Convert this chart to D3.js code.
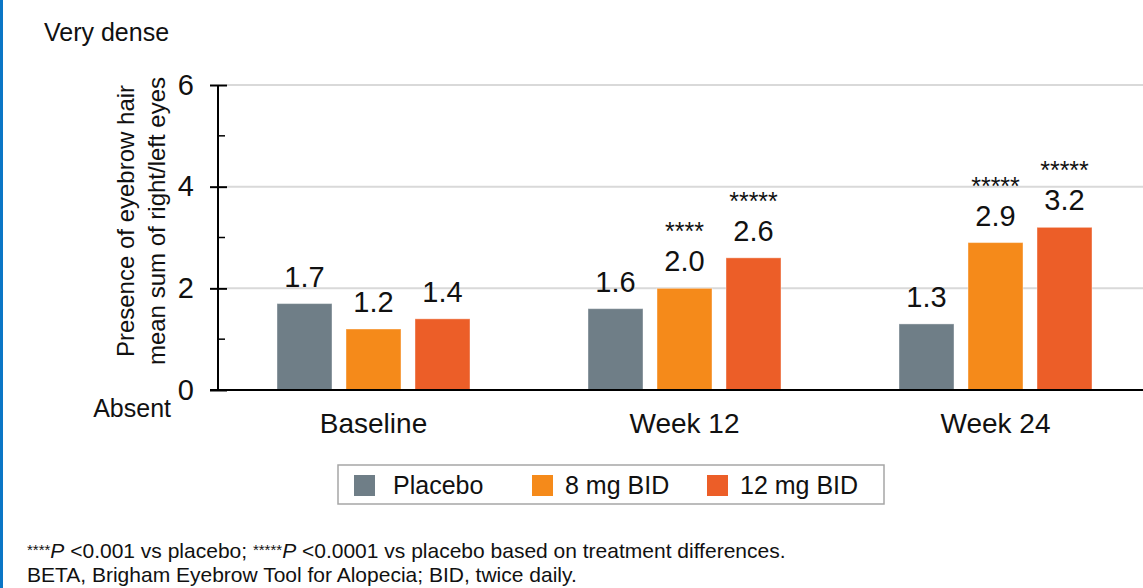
<!DOCTYPE html>
<html>
<head>
<meta charset="utf-8">
<script src="https://cdn.jsdelivr.net/npm/d3@7"></script>
<style>
  html, body { margin: 0; padding: 0; background: #fff; }
  svg { display: block; font-family: "Liberation Sans", Arial, Helvetica, sans-serif; }
</style>
</head>
<body>
<svg id="chart" width="1143" height="588"></svg>
<script>
// Mean BETA eyebrow score by visit and treatment arm
const timepoints = ["Baseline", "Week 12", "Week 24"];
const arms = ["Placebo", "8 mg BID", "12 mg BID"];
const placebo = [1.7, 1.6, 1.3];
const mg8 = [1.2, 2.0, 2.9];
const mg12 = [1.4, 2.6, 3.2];
const sigPlacebo = ["", "", ""];
const sig8 = ["", "****", "*****"];
const sig12 = ["", "*****", "*****"];
const yTicks = [0, 2, 4, 6];
const yMinorTicks = [1, 3, 5];
const armColors = ["#6f7e87", "#f58a1a", "#ec5e28"];

const seriesValues = [placebo, mg8, mg12];
const seriesSig = [sigPlacebo, sig8, sig12];

const rows = timepoints.map((t, i) => ({
  t,
  bars: arms.map((a, j) => ({ arm: a, value: seriesValues[j][i], sig: seriesSig[j][i] }))
}));

const svg = d3.select("#chart");

// Accent rule on the left edge
svg.append("rect").attr("x", 0).attr("y", 0).attr("width", 3).attr("height", 588).attr("fill", "#0a76c6");

const axisX = 218, zeroY = 390, topY = 85;

const x0 = d3.scaleBand().domain(timepoints).range([axisX, 1151]).padding(0);
const x1 = d3.scaleBand().domain(arms).range([0, x0.bandwidth()])
  .paddingInner(0.203).paddingOuter(0.855);
const y = d3.scaleLinear().domain([0, 6]).range([zeroY, topY]);
const color = d3.scaleOrdinal().domain(arms).range(armColors);

// Gridlines
svg.append("g").selectAll("line").data(yTicks.filter(d => d > 0)).join("line")
  .attr("x1", 227).attr("x2", 1143)
  .attr("y1", d => y(d)).attr("y2", d => y(d))
  .attr("stroke", "#d9d9d9").attr("stroke-width", 2);

// Bars
const groups = svg.append("g").selectAll("g").data(rows).join("g")
  .attr("transform", d => `translate(${x0(d.t)},0)`);

groups.selectAll("rect").data(d => d.bars).join("rect")
  .attr("x", d => x1(d.arm))
  .attr("y", d => y(d.value))
  .attr("width", x1.bandwidth())
  .attr("height", d => y(0) - y(d.value))
  .attr("fill", d => color(d.arm))
  .attr("stroke", "rgba(255,255,255,0.4)")
  .attr("stroke-width", 1);

groups.selectAll("text.val").data(d => d.bars).join("text")
  .attr("class", "val")
  .attr("x", d => x1(d.arm) + x1.bandwidth() / 2)
  .attr("y", d => y(d.value) - 17)
  .attr("text-anchor", "middle")
  .attr("font-size", 29)
  .attr("fill", "#111")
  .text(d => d3.format(".1f")(d.value));

groups.selectAll("text.sig").data(d => d.bars.filter(b => b.sig)).join("text")
  .attr("class", "sig")
  .attr("x", d => x1(d.arm) + x1.bandwidth() / 2)
  .attr("y", d => y(d.value) - 48)
  .attr("text-anchor", "middle")
  .attr("font-size", 25)
  .attr("fill", "#111")
  .text(d => d.sig);

// Y axis with major and minor ticks
const yAxis = d3.axisLeft(y).tickValues(yTicks).tickSize(8).tickPadding(16).tickFormat(d3.format("d"));
const yG = svg.append("g").attr("transform", `translate(${axisX},0)`).call(yAxis);
yG.select(".domain").remove();
yG.selectAll(".tick line").attr("x2", -8).attr("x1", 9).attr("stroke", "#000").attr("stroke-width", 2);
yG.selectAll(".tick text").attr("font-size", 29).attr("font-family", "Liberation Sans, Arial, sans-serif").attr("fill", "#111");
svg.append("line").attr("x1", axisX).attr("x2", axisX).attr("y1", topY).attr("y2", zeroY)
  .attr("stroke", "#000").attr("stroke-width", 2);
svg.append("g").selectAll("line").data(yMinorTicks).join("line")
  .attr("x1", axisX).attr("x2", axisX + 7)
  .attr("y1", d => y(d)).attr("y2", d => y(d))
  .attr("stroke", "#000").attr("stroke-width", 1.5);

// X axis
const xAxis = d3.axisBottom(x0).tickSize(0).tickPadding(0);
const xG = svg.append("g").attr("transform", `translate(0,${zeroY})`).call(xAxis);
xG.select(".domain").remove();
xG.selectAll(".tick text").attr("font-size", 28).attr("font-family", "Liberation Sans, Arial, sans-serif")
  .attr("fill", "#111").attr("dy", null).attr("y", 43);
svg.append("line").attr("x1", 210).attr("x2", 1143).attr("y1", zeroY).attr("y2", zeroY)
  .attr("stroke", "#000").attr("stroke-width", 2);

// Scale anchors
svg.append("text").attr("x", 44).attr("y", 41).attr("font-size", 25).attr("fill", "#111").text("Very dense");
svg.append("text").attr("x", 171).attr("y", 417).attr("text-anchor", "end").attr("font-size", 25).attr("fill", "#111").text("Absent");

// Y axis title
const yt = svg.append("text").attr("transform", "translate(0,221) rotate(-90)")
  .attr("text-anchor", "middle").attr("font-size", 24).attr("fill", "#111");
yt.append("tspan").attr("x", 0).attr("y", 134).text("Presence of eyebrow hair");
yt.append("tspan").attr("x", 0).attr("y", 165).text("mean sum of right/left eyes");

// Legend
const lg = svg.append("g");
lg.append("rect").attr("x", 338).attr("y", 465).attr("width", 546).attr("height", 39)
  .attr("fill", "#fff").attr("stroke", "#a6a6a6").attr("stroke-width", 1.5);
const legendX = [354, 532, 707];
const li = lg.selectAll("g").data(arms).join("g")
  .attr("transform", (d, i) => `translate(${legendX[i]},475)`);
li.append("rect").attr("width", 21).attr("height", 21).attr("fill", d => color(d));
li.append("text").attr("x", d => d === "Placebo" ? 39 : 33).attr("y", 19).attr("font-size", 25).attr("fill", "#111").text(d => d);

// Footnotes
const f1 = svg.append("text").attr("x", 27).attr("y", 558).attr("font-size", 21).attr("fill", "#111");
f1.append("tspan").attr("font-size", 15).attr("dy", -3).text("****");
f1.append("tspan").attr("font-style", "italic").attr("dy", 3).text("P");
f1.append("tspan").text(" <0.001 vs placebo; ");
f1.append("tspan").attr("font-size", 15).attr("dy", -3).text("*****");
f1.append("tspan").attr("font-style", "italic").attr("dy", 3).text("P");
f1.append("tspan").text(" <0.0001 vs placebo based on treatment differences.");
svg.append("text").attr("x", 27).attr("y", 582).attr("font-size", 21).attr("fill", "#111")
  .text("BETA, Brigham Eyebrow Tool for Alopecia; BID, twice daily.");
</script>
</body>
</html>
